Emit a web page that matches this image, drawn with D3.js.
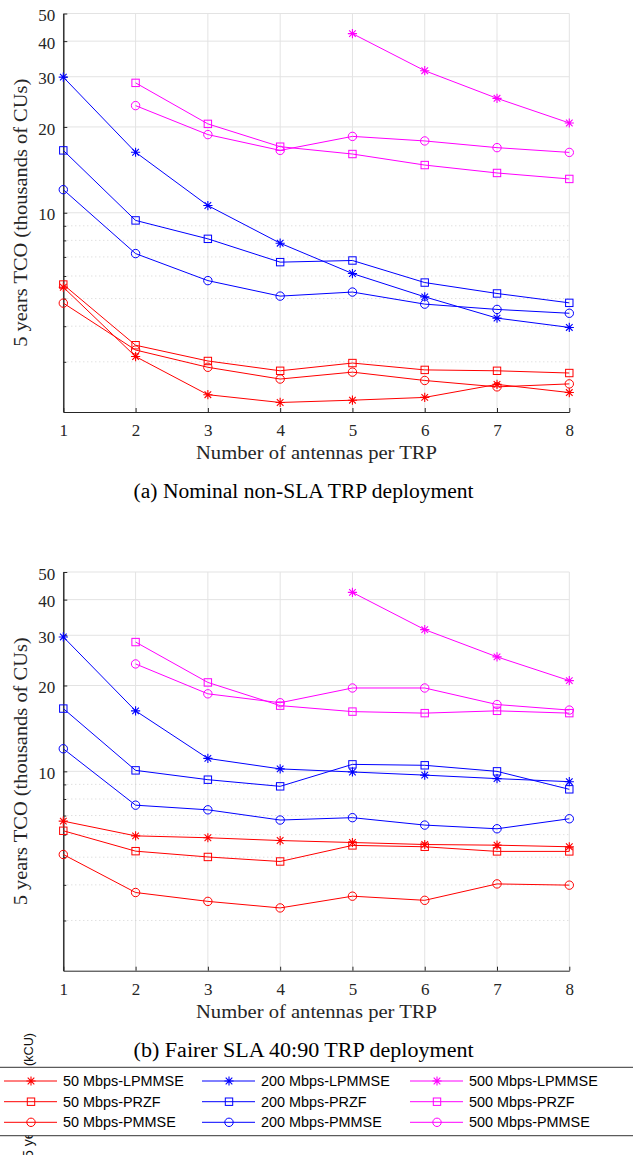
<!DOCTYPE html>
<html>
<head>
<meta charset="utf-8">
<script src="https://cdn.jsdelivr.net/npm/d3@7"></script>
<style>
  html, body { margin: 0; padding: 0; background: #fff; }
  svg { display: block; }
</style>
</head>
<body>
<svg id="fig" width="633" height="1155"></svg>
<script>
// Antenna counts on the x axis
const antennas = [1, 2, 3, 4, 5, 6, 7, 8];

// Tick values of the log y axis
const yMajorTicks = [10, 20, 30, 40, 50];
const yMinorTicks = [3, 4, 5, 6, 7, 8, 9];

// Legend / series identity
const rates = ["50 Mbps", "200 Mbps", "500 Mbps"];
const schemes = ["LPMMSE", "PRZF", "PMMSE"];

// (a) Nominal non-SLA TRP deployment, thousands of CUs
const nominal50LPMMSE  = [5.48, 3.13, 2.30, 2.16, 2.20, 2.25, 2.50, 2.34];
const nominal50PRZF    = [5.60, 3.43, 3.02, 2.79, 2.97, 2.81, 2.79, 2.74];
const nominal50PMMSE   = [4.82, 3.30, 2.87, 2.61, 2.76, 2.58, 2.45, 2.51];
const nominal200LPMMSE = [29.9, 16.3, 10.6, 7.82, 6.12, 5.07, 4.27, 3.96];
const nominal200PRZF   = [16.55, 9.40, 8.10, 6.71, 6.80, 5.69, 5.21, 4.83];
const nominal200PMMSE  = [12.05, 7.19, 5.78, 5.10, 5.27, 4.78, 4.58, 4.44];
const nominal500LPMMSE = [null, null, null, null, 42.5, 31.5, 25.2, 20.65];
const nominal500PRZF   = [null, 28.55, 20.5, 17.05, 16.07, 14.7, 13.79, 13.14];
const nominal500PMMSE  = [null, 23.76, 18.8, 16.55, 18.53, 17.86, 16.92, 16.28];

// (b) Fairer SLA 40:90 TRP deployment, thousands of CUs
const fair50LPMMSE  = [6.69, 5.94, 5.85, 5.72, 5.63, 5.54, 5.51, 5.44];
const fair50PRZF    = [6.19, 5.25, 5.01, 4.83, 5.50, 5.44, 5.24, 5.24];
const fair50PMMSE   = [5.11, 3.76, 3.50, 3.32, 3.65, 3.53, 4.03, 3.99];
const fair200LPMMSE = [29.6, 16.3, 11.1, 10.2, 9.95, 9.7, 9.43, 9.2];
const fair200PRZF   = [16.6, 10.08, 9.35, 8.86, 10.58, 10.5, 10.0, 8.65];
const fair200PMMSE  = [12.0, 7.61, 7.33, 6.75, 6.88, 6.48, 6.29, 6.82];
const fair500LPMMSE = [null, null, null, null, 42.4, 31.4, 25.2, 20.8];
const fair500PRZF   = [null, 28.4, 20.5, 17.0, 16.2, 16.0, 16.3, 16.0];
const fair500PMMSE  = [null, 23.8, 18.7, 17.4, 19.6, 19.6, 17.15, 16.4];

const rateColor = { "50 Mbps": "#ff0000", "200 Mbps": "#0000ff", "500 Mbps": "#ff00ff" };

function seriesList(v50L, v50P, v50M, v200L, v200P, v200M, v500L, v500P, v500M) {
  return [
    { rate: "50 Mbps", scheme: "LPMMSE", values: v50L },
    { rate: "50 Mbps", scheme: "PRZF", values: v50P },
    { rate: "50 Mbps", scheme: "PMMSE", values: v50M },
    { rate: "200 Mbps", scheme: "LPMMSE", values: v200L },
    { rate: "200 Mbps", scheme: "PRZF", values: v200P },
    { rate: "200 Mbps", scheme: "PMMSE", values: v200M },
    { rate: "500 Mbps", scheme: "LPMMSE", values: v500L },
    { rate: "500 Mbps", scheme: "PRZF", values: v500P },
    { rate: "500 Mbps", scheme: "PMMSE", values: v500M }
  ];
}

const panels = [
  {
    caption: "(a) Nominal non-SLA TRP deployment",
    top: 13.5, bottom: 412,
    series: seriesList(nominal50LPMMSE, nominal50PRZF, nominal50PMMSE,
                       nominal200LPMMSE, nominal200PRZF, nominal200PMMSE,
                       nominal500LPMMSE, nominal500PRZF, nominal500PMMSE)
  },
  {
    caption: "(b) Fairer SLA 40:90 TRP deployment",
    top: 572, bottom: 970.7,
    series: seriesList(fair50LPMMSE, fair50PRZF, fair50PMMSE,
                       fair200LPMMSE, fair200PRZF, fair200PMMSE,
                       fair500LPMMSE, fair500PRZF, fair500PMMSE)
  }
];

const svg = d3.select("#fig");
const plotLeft = 63.3, plotRight = 569.3;
const serif = "'Liberation Serif', 'Times New Roman', serif";
const sans = "'Liberation Sans', Arial, sans-serif";
const axisColor = "#262626";
const gridColor = "#e3e3e3";

// Marker glyphs drawn around (0,0)
function drawMarker(g, scheme, color) {
  if (scheme === "LPMMSE") {
    const s = 4.6, d = s * 0.72;
    g.append("path")
      .attr("d", `M${-s},0H${s}M0,${-s}V${s}M${-d},${-d}L${d},${d}M${-d},${d}L${d},${-d}`)
      .attr("stroke", color).attr("stroke-width", 1.1).attr("fill", "none");
  } else if (scheme === "PRZF") {
    g.append("rect").attr("x", -3.7).attr("y", -3.7).attr("width", 7.4).attr("height", 7.4)
      .attr("stroke", color).attr("stroke-width", 1).attr("fill", "none");
  } else {
    g.append("circle").attr("r", 4.2)
      .attr("stroke", color).attr("stroke-width", 1).attr("fill", "none");
  }
}

// Rotated y label of the next figure; its middle sits under the legend box
svg.append("text")
  .attr("transform", "translate(33,1158) rotate(-90)")
  .attr("font-family", sans).attr("font-size", 14).attr("fill", "#111")
  .text("5 years TCO");
svg.append("text")
  .attr("transform", "translate(33,1066) rotate(-90)")
  .attr("font-family", sans).attr("font-size", 13).attr("fill", "#111")
  .attr("textLength", 33).attr("lengthAdjust", "spacingAndGlyphs")
  .text("(kCU)");

panels.forEach(p => {
  const x = d3.scaleLinear().domain([1, 8]).range([plotLeft, plotRight]);
  const y = d3.scaleLog().domain([2, 50]).range([p.bottom, p.top]);
  const g = svg.append("g");

  // grid
  g.append("g").selectAll("line").data(antennas).join("line")
    .attr("x1", d => x(d)).attr("x2", d => x(d))
    .attr("y1", p.top).attr("y2", p.bottom)
    .attr("stroke", gridColor).attr("stroke-width", 1);
  g.append("g").selectAll("line").data(yMajorTicks).join("line")
    .attr("x1", plotLeft).attr("x2", plotRight)
    .attr("y1", d => y(d)).attr("y2", d => y(d))
    .attr("stroke", gridColor).attr("stroke-width", 1);
  g.append("g").selectAll("line").data(yMinorTicks).join("line")
    .attr("x1", plotLeft).attr("x2", plotRight)
    .attr("y1", d => y(d)).attr("y2", d => y(d))
    .attr("stroke", "#c8c8c8").attr("stroke-width", 0.8)
    .attr("stroke-dasharray", "1,3");

  // axes (inward ticks)
  const xAxis = d3.axisBottom(x).tickValues(antennas).tickFormat(d3.format("d"))
    .tickSizeInner(-4).tickSizeOuter(0).tickPadding(12);
  const xg = g.append("g").attr("transform", `translate(0,${p.bottom})`).call(xAxis);
  const yAxis = d3.axisLeft(y).tickValues(yMajorTicks).tickFormat(d3.format("d"))
    .tickSizeInner(-4).tickSizeOuter(0).tickPadding(8);
  const yg = g.append("g").attr("transform", `translate(${plotLeft},0)`).call(yAxis);
  yg.selectAll(".tick text").attr("dy", "0.42em");
  const yMinorAxis = d3.axisLeft(y).tickValues(yMinorTicks).tickFormat("")
    .tickSizeInner(-3).tickSizeOuter(0);
  const ymg = g.append("g").attr("transform", `translate(${plotLeft},0)`).call(yMinorAxis);
  [xg, yg, ymg].forEach(a => {
    a.select(".domain").attr("stroke", axisColor);
    a.selectAll(".tick line").attr("stroke", axisColor);
    a.selectAll("text").attr("font-family", serif).attr("font-size", 17).attr("fill", axisColor);
  });

  // series lines and markers
  const line = d3.line()
    .defined(d => d.v != null)
    .x(d => x(d.x)).y(d => y(d.v));
  p.series.forEach(s => {
    const pts = antennas.map((a, i) => ({ x: a, v: s.values[i] }));
    const color = rateColor[s.rate];
    g.append("path").datum(pts).attr("d", line)
      .attr("fill", "none").attr("stroke", color).attr("stroke-width", 1);
    pts.filter(d => d.v != null).forEach(d => {
      const mg = g.append("g").attr("transform", `translate(${x(d.x)},${y(d.v)})`);
      drawMarker(mg, s.scheme, color);
    });
  });

  // axis titles and caption
  g.append("text")
    .attr("x", 316.5).attr("y", p.bottom + 47)
    .attr("text-anchor", "middle").attr("font-family", serif).attr("font-size", 19)
    .attr("textLength", 241).attr("lengthAdjust", "spacingAndGlyphs")
    .attr("fill", axisColor).text("Number of antennas per TRP");
  g.append("text")
    .attr("transform", `translate(27,${(p.top + p.bottom) / 2}) rotate(-90)`)
    .attr("text-anchor", "middle").attr("font-family", serif).attr("font-size", 18)
    .attr("textLength", 268).attr("lengthAdjust", "spacingAndGlyphs")
    .attr("fill", axisColor).text("5 years TCO (thousands of CUs)");
  g.append("text")
    .attr("x", 303.6).attr("y", p.bottom + 86)
    .attr("text-anchor", "middle").attr("font-family", serif).attr("font-size", 20)
    .attr("textLength", 340).attr("lengthAdjust", "spacingAndGlyphs")
    .attr("fill", "#000").text(p.caption);
});

// Legend: three columns (rates) by three rows (schemes)
const legend = svg.append("g");
legend.append("rect").attr("x", -1).attr("y", 1067.3).attr("width", 635).attr("height", 68.4)
  .attr("fill", "#fff").attr("stroke", "#333").attr("stroke-width", 1);
const colX = [4, 202, 410];
const rowY = [1081, 1101.7, 1122.3];
rates.forEach((r, ci) => {
  schemes.forEach((sc, ri) => {
    const color = rateColor[r];
    const lx = colX[ci], ly = rowY[ri];
    legend.append("line").attr("x1", lx).attr("x2", lx + 53).attr("y1", ly).attr("y2", ly)
      .attr("stroke", color).attr("stroke-width", 1);
    drawMarker(legend.append("g").attr("transform", `translate(${lx + 27},${ly})`), sc, color);
    legend.append("text").attr("x", lx + 59).attr("y", ly + 5)
      .attr("font-family", sans).attr("font-size", 14.4).attr("fill", "#000")
      .text(`${r}-${sc}`);
  });
});
</script>
</body>
</html>
